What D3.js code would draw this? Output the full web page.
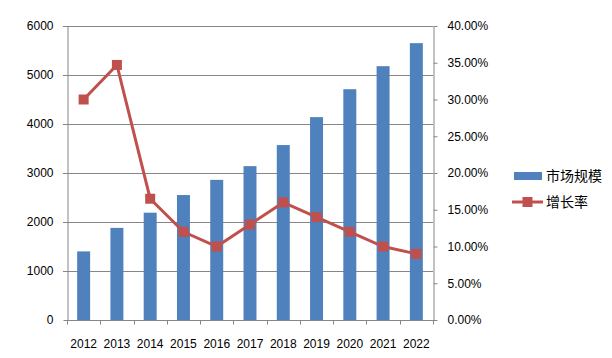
<!DOCTYPE html>
<html><head><meta charset="utf-8">
<script src="https://cdn.jsdelivr.net/npm/d3@7"></script>
<style>body{margin:0;background:#fff}svg{display:block}</style>
</head><body>
<svg id="c" width="612" height="358"></svg>
<script>
const years = ["2012","2013","2014","2015","2016","2017","2018","2019","2020","2021","2022"];
const marketSize = [1400,1880,2190,2550,2860,3140,3570,4140,4710,5180,5650];
const growthRate = [0.300,0.347,0.165,0.120,0.100,0.130,0.160,0.140,0.120,0.100,0.090];
const leftTicks = [0,1000,2000,3000,4000,5000,6000];
const rightTicks = [0,0.05,0.10,0.15,0.20,0.25,0.30,0.35,0.40];
const seriesNames = ["市场规模","增长率"];

const svg = d3.select("#c");
const L = 67, R = 433, T = 26, B = 320;
const grid = "#868686", barColor = "#4F81BD", lineColor = "#C0504D";
const font = "'Liberation Sans', Arial, sans-serif";

const x = d3.scaleBand().domain(years).range([L, R]).paddingInner(0.61).paddingOuter(0.305);
const step = x.step();
const yL = d3.scaleLinear().domain([0, 6000]).range([B, T]);
const yR = d3.scaleLinear().domain([0, 0.40]).range([B, T]);

// gridlines
svg.append("g").selectAll("line").data(leftTicks.filter(d => d > 0)).join("line")
  .attr("x1", L - 4).attr("x2", R).attr("y1", d => Math.round(yL(d)) + 0.5).attr("y2", d => Math.round(yL(d)) + 0.5)
  .attr("stroke", grid).attr("stroke-width", 1);

// left axis
const gl = svg.append("g").attr("transform", `translate(${L + 0.5},0)`)
  .call(d3.axisLeft(yL).tickValues(leftTicks).tickSize(4).tickSizeOuter(0).tickFormat(d3.format("d")));
gl.select(".domain").attr("stroke", grid);
gl.selectAll(".tick line").attr("stroke", grid);
gl.selectAll("text").attr("font-family", font).attr("font-size", 12).attr("fill", "#000").attr("x", -14);

// right axis
const gr = svg.append("g").attr("transform", `translate(${R + 0.5},0)`)
  .call(d3.axisRight(yR).tickValues(rightTicks).tickSize(4).tickSizeOuter(0).tickFormat(d3.format(".2%")));
gr.select(".domain").attr("stroke", grid);
gr.selectAll(".tick line").attr("stroke", grid);
gr.selectAll("text").attr("font-family", font).attr("font-size", 12).attr("fill", "#000").attr("x", 14);

// bars
svg.append("g").selectAll("rect").data(years).join("rect")
  .attr("x", d => x(d)).attr("width", x.bandwidth())
  .attr("y", (d, i) => yL(marketSize[i])).attr("height", (d, i) => B - yL(marketSize[i]))
  .attr("fill", barColor);

// bottom axis
const bx = svg.append("g").attr("transform", `translate(0,${B + 0.5})`);
bx.append("line").attr("x1", L).attr("x2", R + 1).attr("stroke", grid);
bx.selectAll("line.t").data(d3.range(years.length + 1)).join("line").attr("class", "t")
  .attr("x1", i => Math.round(L + i * step) + 0.5).attr("x2", i => Math.round(L + i * step) + 0.5)
  .attr("y1", 0).attr("y2", 4).attr("stroke", grid);
bx.selectAll("text").data(years).join("text")
  .attr("x", d => x(d) + x.bandwidth() / 2).attr("y", 27)
  .attr("text-anchor", "middle").attr("font-family", font).attr("font-size", 12).attr("fill", "#000")
  .text(d => d);

// line
const cx = d => x(d) + x.bandwidth() / 2;
svg.append("path").datum(years)
  .attr("d", d3.line().x(d => cx(d)).y((d, i) => yR(growthRate[i])))
  .attr("fill", "none").attr("stroke", lineColor).attr("stroke-width", 3);
svg.append("g").selectAll("rect").data(years).join("rect")
  .attr("x", d => cx(d) - 5).attr("y", (d, i) => yR(growthRate[i]) - 5)
  .attr("width", 10).attr("height", 10).attr("fill", lineColor);

// legend
const lg = svg.append("g");
lg.append("rect").attr("x", 514).attr("y", 172).attr("width", 28).attr("height", 8).attr("fill", barColor);
lg.append("text").attr("x", 546).attr("y", 181).attr("font-family", "'Noto Sans CJK SC', sans-serif")
  .attr("font-size", 14).attr("fill", "#000").text(seriesNames[0]);
lg.append("line").attr("x1", 512).attr("x2", 543).attr("y1", 202).attr("y2", 202).attr("stroke", lineColor).attr("stroke-width", 3);
lg.append("rect").attr("x", 522.5).attr("y", 197).attr("width", 10).attr("height", 10).attr("fill", lineColor);
lg.append("text").attr("x", 546).attr("y", 207).attr("font-family", "'Noto Sans CJK SC', sans-serif")
  .attr("font-size", 14).attr("fill", "#000").text(seriesNames[1]);
</script>
</body></html>
